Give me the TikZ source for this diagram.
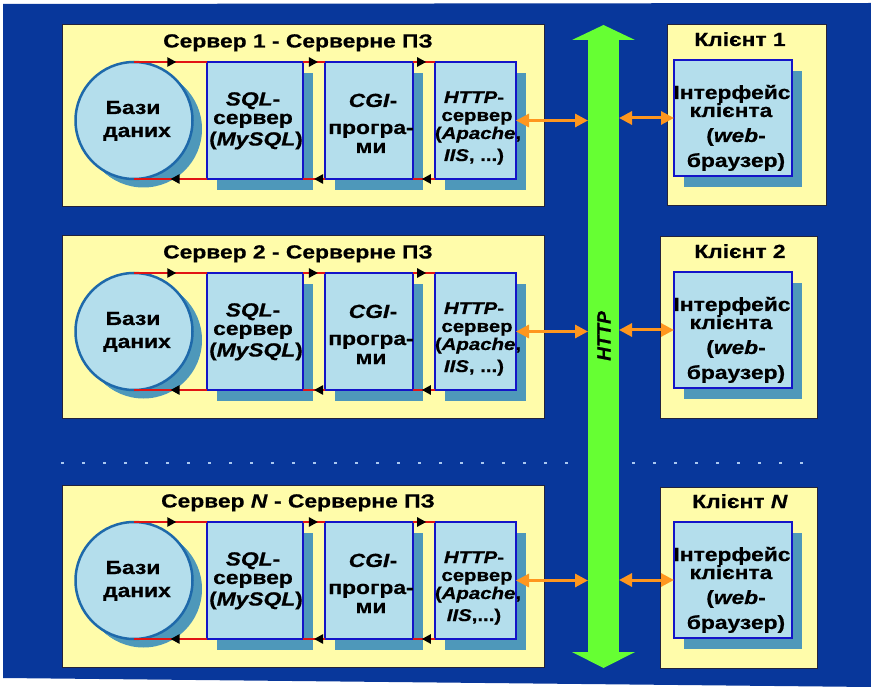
\documentclass[tikz,border=0pt]{standalone}
\usepackage{fontspec}
\setmainfont{Liberation Sans}[FakeStretch=1.2,
  BoldFeatures={FakeBold=0.6}, BoldItalicFeatures={FakeBold=0.6}]
\newfontfamily\busfont{Liberation Sans}[BoldItalicFeatures={FakeBold=0.6}]
\usetikzlibrary{arrows.meta,decorations.markings,shadows}

\definecolor{bgblue}{RGB}{8,55,155}
\definecolor{panelyel}{RGB}{255,252,170}
\definecolor{paneledge}{RGB}{35,35,60}
\definecolor{boxfill}{RGB}{180,222,236}
\definecolor{boxline}{RGB}{20,20,200}
\definecolor{rimteal}{RGB}{78,152,186}
\definecolor{dbline}{RGB}{30,105,170}
\definecolor{busgreen}{RGB}{102,255,51}
\definecolor{linkorange}{RGB}{255,150,30}
\definecolor{flowred}{RGB}{225,20,20}
\definecolor{dotblue}{RGB}{170,200,240}

\tikzset{
  panel/.style={fill=panelyel, draw=paneledge, line width=1pt, inner sep=0pt,
    outer sep=0pt, anchor=north west},
  unit/.style={fill=boxfill, draw=boxline, line width=2.5pt, inner sep=0pt,
    outer sep=0pt, anchor=north west,
    drop shadow={shadow xshift=10pt, shadow yshift=-11pt, fill=rimteal, opacity=1}},
  dbdisc/.style={circle, fill=boxfill, draw=dbline, line width=2.5pt,
    inner sep=0pt, outer sep=0pt, minimum size=117pt},
  lbl/.style={font=\bfseries\fontsize{19}{19}\selectfont, inner sep=0pt, anchor=base},
  lbls/.style={font=\bfseries\fontsize{17}{17}\selectfont, inner sep=0pt, anchor=base},
  flow/.style={draw=flowred, line width=2.5pt},
  flowmark/.style={postaction={decorate, decoration={markings,
    mark=at position #1 with {\arrow{Triangle[length=9pt,width=9pt,color=black]}}}}},
  link/.style={draw=linkorange, line width=3pt,
    {Triangle[length=13pt,width=13pt]}-{Triangle[length=13pt,width=13pt]}},
}

% one server panel: #1 id, #2 top y, #3 title, #4 last line of the HTTP box
\newcommand\serverrow[4]{%
  \node[panel, minimum width=482pt, minimum height=182pt] (srv#1) at (62,#2) {};
  \node[lbl] (srvt#1) at (298,#2+22.5) {#3};
  % disc with its extruded rim
  \foreach \k in {1,...,10}
    \fill[rimteal] (134+\k*0.95,#2+95.5+\k*0.85) circle[radius=58.5pt];
  \node[dbdisc] (db#1) at (134,#2+95.5) {};
  \node[lbl] (dba#1) at (133,#2+89) {Бази};
  \node[lbl] (dbb#1) at (137,#2+112) {даних};
  % processing units
  \node[unit, minimum width=96pt, minimum height=117pt] (sql#1) at (207,#2+37) {};
  \node[unit, minimum width=88pt, minimum height=117pt] (cgi#1) at (325,#2+37) {};
  \node[unit, minimum width=81pt, minimum height=117pt] (http#1) at (435,#2+37) {};
  \node[lbl] (sqla#1) at (253,#2+80.5) {\textit{SQL}-};
  \node[lbl] (sqlb#1) at (253,#2+99) {сервер};
  \node[lbl] (sqlc#1) at (256,#2+120.5) {(\textit{MySQL})};
  \node[lbl] (cgia#1) at (373,#2+82) {\textit{CGI}-};
  \node[lbl] (cgib#1) at (371,#2+109) {програ-};
  \node[lbl] (cgic#1) at (371,#2+128) {ми};
  \node[lbls] (htta#1) at (474,#2+78) {\textit{HTTP}-};
  \node[lbls] (httb#1) at (477,#2+96) {сервер};
  \node[lbls] (httc#1) at (478,#2+114) {(\textit{Apache},};
  \node[lbls] (httd#1) at (474,#2+136) {#4};
  % request / response flow
  \draw[flow, flowmark=0.58] (db#1.north) -- (sql#1.north west);
  \draw[flow, flowmark=0.68] (sql#1.north east) -- (cgi#1.north west);
  \draw[flow, flowmark=0.6] (cgi#1.north east) -- (http#1.north west);
  \draw[flow, flowmark=0.6] (http#1.south west) -- (cgi#1.south east);
  \draw[flow, flowmark=0.5] (cgi#1.south west) -- (sql#1.south east);
  \draw[flow, flowmark=0.5] (sql#1.south west) -- (db#1.south);
  \draw[link] (http#1.east) -- (http#1.east -| bus.west);
}

% one client panel: #1 id, #2 left x, #3 width, #4 top y, #5 title
\newcommand\clientbox[5]{%
  \node[panel, minimum width=#3pt, minimum height=181pt] (cl#1) at (#2,#4) {};
  \node[lbl] (clt#1) at (740,#4+21) {#5};
  \node[unit, minimum width=118pt, minimum height=116pt] (ui#1) at (674,#4+35) {};
  \node[lbl] (uia#1) at (732,#4+74) {Інтерфейс};
  \node[lbl] (uib#1) at (731,#4+92) {клієнта};
  \node[lbl] (uic#1) at (736,#4+117) {(\textit{web}-};
  \node[lbl] (uid#1) at (736,#4+142) {браузер)};
  \draw[link] (ui#1.west -| bus.east) -- (ui#1.west);
}

\begin{document}
\begin{tikzpicture}[x=1pt, y=-1pt]
  \useasboundingbox (0,0) rectangle (871,687);
  \fill[white] (0,0) rectangle (871,687);
  \fill[bgblue] (3,4) -- (871,3) -- (871,687) -- (3,678) -- cycle;

  % HTTP bus
  \node[fill=busgreen, minimum width=31pt, minimum height=612pt, inner sep=0pt,
    outer sep=0pt, anchor=north west] (bus) at (588,40) {};
  \fill[busgreen] ([xshift=-16pt]bus.north west) -- ([yshift=15pt]bus.north)
    -- ([xshift=16pt]bus.north east) -- cycle;
  \fill[busgreen] ([xshift=-16pt]bus.south west) -- ([yshift=-16pt]bus.south)
    -- ([xshift=16pt]bus.south east) -- cycle;
  \node[font=\busfont\bfseries\itshape\fontsize{19}{19}\selectfont, rotate=90,
    inner sep=0pt] (buslbl) at (604,336) {HTTP};

  \serverrow{1}{25}{Сервер 1 - Серверне ПЗ}{\textit{IIS}, ...)}
  \serverrow{2}{236}{Сервер 2 - Серверне ПЗ}{\textit{IIS}, ...)}
  \serverrow{3}{485}{Сервер \textit{N} - Серверне ПЗ}{\textit{IIS},...)}

  \clientbox{1}{667}{159}{25}{Клієнт 1}
  \clientbox{2}{660}{157}{237}{Клієнт 2}
  \clientbox{3}{660}{157}{487}{Клієнт \textit{N}}

  % ellipsis rows between the second and the last pair
  \draw[dotblue, line width=2pt, dash pattern=on 3pt off 18pt] (61,463) -- (572,463);
  \draw[dotblue, line width=2pt, dash pattern=on 3pt off 18pt] (632,463) -- (805,463);
\end{tikzpicture}
\end{document}
